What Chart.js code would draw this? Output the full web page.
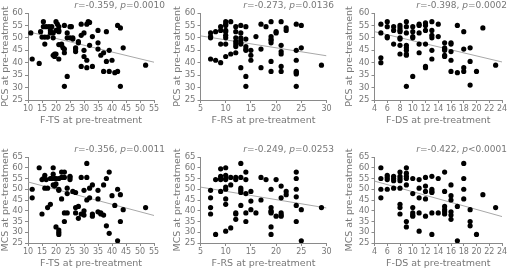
<!DOCTYPE html>
<html><head><meta charset="utf-8">
<script src="https://cdn.jsdelivr.net/npm/chart.js@4.4.1/dist/chart.umd.min.js"></script>
<style>
html,body{margin:0;padding:0;background:#fff;overflow:hidden;}
#wrap{position:relative;width:510px;height:268px;overflow:hidden;background:#fff;}
canvas{position:absolute;}
.stat{position:absolute;font-family:"DejaVu Sans";font-size:9px;color:#777;white-space:nowrap;line-height:10px;transform:translateX(-100%);}
</style></head><body>
<div id="wrap"></div>
<script>
// ---- tick labels ----
const ftsTicks = [10,15,20,25,30,35,40,45,50,55];
const frsTicks = [5,10,15,20,25,30];
const fdsTicks = [4,6,8,10,12,14,16,18,20,22,24];
const pcsTicks = [25,30,35,40,45,50,55,60];
const mcsTicks = [25,30,35,40,45,50,55,60,65];

// ---- stats text ----
const statR = ["-0.359","-0.273","-0.398","-0.356","-0.249","-0.422"];
const statP = ["=0.0010","=0.0136","=0.0002","=0.0011","=0.0253","<0.0001"];

// ---- PCS vs F-TS ----
const pcsFtsX = [11,11.5,14,14.5,15,15.5,15.5,16,16,16.5,17,17.5,18,18,18.5,19,19,19,19.5,19.5,20,20,20,20.5,21,21,21,21,21,22,22,23,23,23,22.5,24,24,24,23,25,25,25.5,26,26,27,27,27,28,28,29,29,29,30,30,30,31,31,31,31.5,32,32,33,33,35,35,35,36,37,37,38,38,39,39,40,41,42,42,43,43,44,52];
const pcsFtsY = [52,41.5,39.7,52.5,50.3,56.5,54.5,50.3,47.5,54.5,50.3,54.5,53,52,54.5,50,52,43,42.5,43.5,43.5,56.5,53,55.5,54.5,53,52.5,47.3,41.5,47.5,47,55,45.5,44,46,52,50,34.5,30.5,50,54.5,54.5,50,49.5,45.5,46,44.5,48,48.5,38.5,55.5,51,52,45,42.5,38,41,55.5,56.5,56.2,47,38.5,50.5,53,48,45.5,43,44,36.5,52.5,40.5,36.5,45,41,36,36.5,55,54,30.5,46,39];
const pcsFtsFit = [[10,55],[52.5,40.2]];

// ---- PCS vs F-RS ----
const pcsFrsX = [7,7,7,7,8,8,9,9,9,9,10,10,10,10,10,10,10,10,10,11,11,12,12,12,12,12,12,12,13,13,13,13,13,13,13,14,14,14,14,14,14,14,15,15,15,16,17,17,17,18,19,19,19,19,19,19,19,20,20,21,21,21,21,21,21,22,22,24,24,24,24,24,24,24,25,25,29];
const pcsFrsY = [52,50.5,50,41.5,52.5,41,54.5,53,47.5,40,56.5,55.5,55,53,52.5,51,50,47.5,42.5,56.5,43.5,54.5,52.5,50,48.5,47.5,46.5,44,55,52,50,49,48,47.5,38,54.5,49.5,46.5,45.5,45,34.5,30.5,45,43,41,50.5,55.5,45.5,38,54.5,56.5,50.5,49.5,49,48,40.5,36.5,52.5,52,56.5,47,44.5,43.5,38.5,36.5,54,53,55.5,45,41,36.5,36,35.5,30.5,55,46,39];
const pcsFrsFit = [[5,30],[50.8,42.8]];

// ---- PCS vs F-DS ----
const pcsFdsX = [5,5,5,5,6,6,6,6,7,7,7,8,8,8,8,8,8,8,8,9,9,9,9,9,9,9,9,9,10,10,10,10,10,11,11,11,11,11,12,12,12,12,12,12,13,13,13,13,13,13,14,14,15,15,15,15,15,15,16,16,16,16,16,17,17,18,18,18,18,19,19,19,20,21,23];
const pcsFdsY = [55.5,52,42,40,56.5,54.5,50.5,50,54.5,53,47.5,55,54,53,52.5,50,49.5,47,43.5,56.5,54.5,52,47,46,45,43.5,43,30.5,54.5,52.5,50.5,50,34.5,55.5,55,52,47.5,44,56,55,53,47.5,38.5,38,56.5,53,51,50,45,41.5,55.5,50.5,48,46,45.5,45,43,42.5,48,47.5,44.5,41,36.5,55,36,52.5,45.5,38,36.5,46,40.5,31,36.5,54,39];
const pcsFdsFit = [[4,24],[52.5,40.3]];

// ---- MCS vs F-TS ----
const mcsFtsX = [11.5,11.5,14,15,15,15.5,16,16,16.5,17,17,18,18,18.5,19,19,19,19.5,19.5,20,20,20,21,21,21,21,21,21,22,22,22,23,23,23,23,24,24,24,25,25,25,26,27,27,27,28,28,29,29,30,30,30,31,31,31,32,32,33,33,33,35,35,35,36,36,37,37,38,38,39,39,40,41,42,42,43,43,44,52];
const mcsFtsY = [50,46,60,38.5,54.5,55,56.5,50.5,54.5,50.5,41.5,43,55,55,60,57,52,55,51.5,52.5,55,32.5,31,29,30,50,49.5,55,55.5,58,45.5,58,55.5,39,35,39,48,50.5,56,55.5,54.5,49,48.5,39,41.5,42,36.5,38.5,55.5,49.5,40,38,62,55.5,45,46,50.5,52,38.5,37.5,49.5,45.5,39.5,39,38.5,52,38,55,33,58,29.5,47,42.5,50,26,47.5,35,40.5,41.5];
const mcsFtsFit = [[10,55],[53.4,37.8]];

// ---- MCS vs F-RS ----
const mcsFrsX = [7,7,7,7,8,8,9,9,9,9,9,10,10,10,10,10,10,10,10,10,11,11,11,12,12,12,12,12,13,13,13,13,13,13,14,14,14,14,14,15,15,15,16,17,17,18,19,19,19,19,19,19,19,20,20,21,21,21,21,21,22,22,24,24,24,24,24,24,25,25,29];
const mcsFrsY = [49.5,46,41.5,38.5,54.5,29,59.5,56,55,54.5,49,60,56.5,55,54.5,51,50,45.5,43,30.5,55.5,52,32,55.5,54.5,39,38.5,36,62,55.5,50.5,49.5,48.5,42.5,58,54.5,48,39,35,49,44.5,40.5,39,55.5,45,54.5,50,41.5,40,39.5,39,32.5,29,54.5,37.5,51.5,46,39,38,37.5,49,47.5,58,55,50,46.5,42.5,35,40.5,26,41.5];
const mcsFrsFit = [[5,30],[51,41.3]];

// ---- MCS vs F-DS ----
const mcsFdsX = [5,5,5,5,6,6,6,6,7,7,7,7,8,8,8,8,8,8,8,8,9,9,9,9,9,9,9,10,10,10,10,10,10,11,11,11,11,11,12,12,12,12,12,13,13,13,13,13,13,14,14,15,15,15,15,15,15,16,16,16,16,16,16,17,17,18,18,18,18,19,19,19,20,21,23];
const mcsFdsY = [60,55,50,46,56.5,55.5,54.5,50,56,55,54,50.5,58,56,55,54,50.5,43,41.5,38.5,60,57.5,56,55,52,35,32.5,55,48,41.5,39,38,37.5,54.5,50.5,46,39,30.5,55.5,51.5,49,45.5,37.5,56,50,49,48.5,39,29,55,39,58,49,42,40.5,39.5,38.5,52,47,45,39.5,38,36,42,26,62,55,50,45.5,40.5,35,33,29,47.5,41.5];
const mcsFdsFit = [[4,24],[53.8,37.3]];

const xTitles = ["F-TS at pre-treatment","F-RS at pre-treatment","F-DS at pre-treatment"];
const yTitles = ["PCS at pre-treatment","MCS at pre-treatment"];

const panels = [
  {xs:pcsFtsX, ys:pcsFtsY, fit:pcsFtsFit, xt:ftsTicks, yt:pcsTicks},
  {xs:pcsFrsX, ys:pcsFrsY, fit:pcsFrsFit, xt:frsTicks, yt:pcsTicks},
  {xs:pcsFdsX, ys:pcsFdsY, fit:pcsFdsFit, xt:fdsTicks, yt:pcsTicks},
  {xs:mcsFtsX, ys:mcsFtsY, fit:mcsFtsFit, xt:ftsTicks, yt:mcsTicks},
  {xs:mcsFrsX, ys:mcsFrsY, fit:mcsFrsFit, xt:frsTicks, yt:mcsTicks},
  {xs:mcsFdsX, ys:mcsFdsY, fit:mcsFdsFit, xt:fdsTicks, yt:mcsTicks}
];

// layout geometry (per column / per row)
const colGeo = [{pl:0,yw:28,pr:16,statRight:165},{pl:2,yw:28.5,pr:13.5,statRight:334},{pl:4,yw:30.5,pr:8,statRight:507}];
const rowGeo = [{top:0,h:134,pt:13,xh:34,tpb:8,statTop:-0.3},{top:134,h:136,pt:23,xh:27,tpb:1,statTop:144}];

const GRAY = '#777';
const AXIS = '#8a8a8a';
const wrap = document.getElementById('wrap');

panels.forEach((p, i) => {
  const col = i % 3, row = Math.floor(i / 3);
  const cg = colGeo[col], rg = rowGeo[row];
  const cv = document.createElement('canvas');
  cv.width = 170; cv.height = rg.h;
  cv.style.left = (col * 170) + 'px';
  cv.style.top = rg.top + 'px';
  wrap.appendChild(cv);

  const st = document.createElement('div');
  st.className = 'stat';
  st.style.left = cg.statRight + 'px';
  st.style.top = (rg.statTop) + 'px';
  st.innerHTML = '<i>r</i>=' + statR[i] + ', <i>p</i>' + statP[i];
  wrap.appendChild(st);

  const pts = p.xs.map((x, k) => ({x: x, y: p.ys[k]}));
  const fitPts = [{x:p.fit[0][0], y:p.fit[1][0]}, {x:p.fit[0][1], y:p.fit[1][1]}];

  new Chart(cv, {
    data: {
      datasets: [
        {type:'scatter', data: pts, pointRadius: 2.6, pointHoverRadius: 2.6, backgroundColor:'#000', borderColor:'#000', borderWidth:0, order:1},
        {type:'line', data: fitPts, borderColor:'#a8a8a8', borderWidth:1, pointRadius:0, fill:false, tension:0, order:2}
      ]
    },
    options: {
      responsive:false, animation:false, events:[],
      plugins:{legend:{display:false}, tooltip:{enabled:false}, title:{display:false}},
      layout:{padding:{left:cg.pl, right:cg.pr, top:rg.pt, bottom:0}},
      scales:{
        x:{
          type:'linear', min:p.xt[0], max:p.xt[p.xt.length-1],
          afterBuildTicks: s => { s.ticks = p.xt.map(v => ({value:v})); },
          afterFit: s => { s.height = rg.xh; },
          border:{display:true, color:AXIS, width:1},
          grid:{display:true, drawOnChartArea:false, drawTicks:true, tickLength:3, color:AXIS},
          ticks:{autoSkip:false, maxRotation:0, minRotation:0, padding:1.5, color:GRAY, font:{family:'DejaVu Sans', size:8}},
          title:{display:true, text:xTitles[col], color:GRAY, font:{family:'DejaVu Sans', size:9.5}, padding:{top:0, bottom:rg.tpb}}
        },
        y:{
          type:'linear', min:p.yt[0], max:p.yt[p.yt.length-1],
          afterBuildTicks: s => { s.ticks = p.yt.map(v => ({value:v})); },
          afterFit: s => { s.width = cg.yw; },
          border:{display:true, color:AXIS, width:1},
          grid:{display:true, drawOnChartArea:false, drawTicks:true, tickLength:3, color:AXIS},
          ticks:{autoSkip:false, padding:2, color:GRAY, font:{family:'DejaVu Sans', size:8.5}},
          title:{display:true, text:yTitles[row], color:GRAY, font:{family:'DejaVu Sans', size:9.5}, padding:{top:0, bottom:0}}
        }
      }
    }
  });
});
</script>
</body></html>
